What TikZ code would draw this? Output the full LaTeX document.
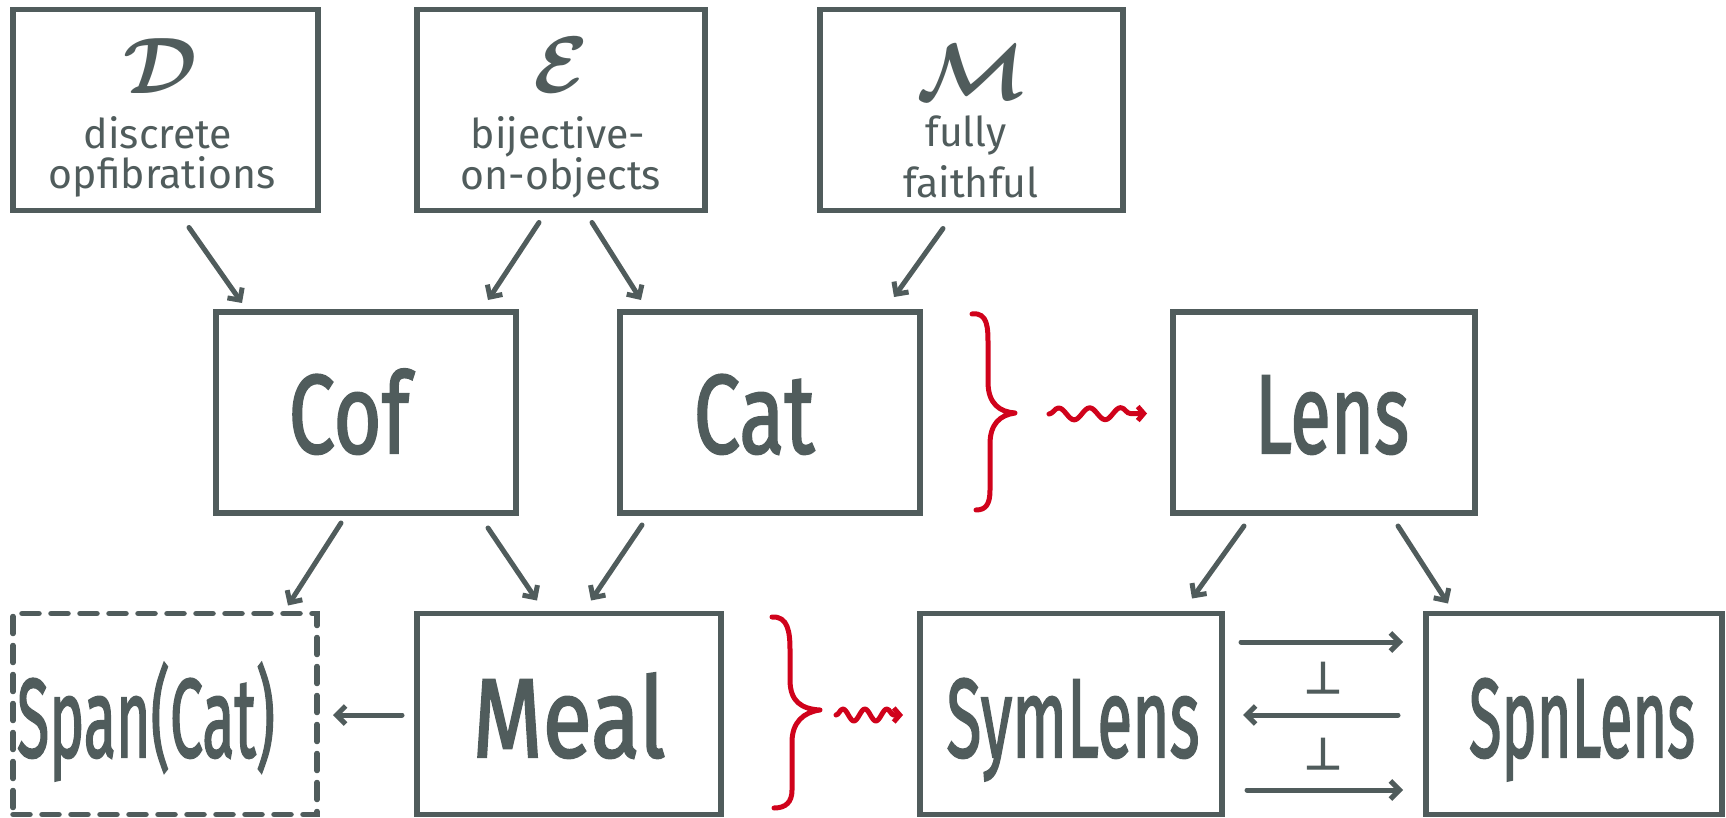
\RequirePackage{fix-cm}
\documentclass[tikz,border=0pt]{standalone}
\usepackage{fontspec}
\setmainfont{Fira Sans}
\newfontfamily\bigfont[FakeBold=2]{Fira Sans}
\newfontfamily\symfont[FakeBold=3]{DejaVu Sans}
\usepackage{graphicx}
\usetikzlibrary{arrows.meta,decorations.pathmorphing}
\definecolor{ink}{HTML}{505C5C}
\definecolor{brc}{HTML}{D0021B}
\newlength\hlw
\newcommand\biglbl[2]{\settowidth\hlw{\bigfont\fontsize{112}{112}\selectfont #2}\pgfmathsetmacro\hsx{#1/\hlw}\scalebox{\hsx}[1]{\bigfont\fontsize{112}{112}\selectfont #2}}
\tikzset{
  box/.style={draw=ink, line width=5.5pt, rectangle, inner sep=0pt, outer sep=0pt, minimum width=#1, minimum height=201pt},
  dbox/.style={box=#1, dash pattern=on 17pt off 12pt, line cap=round},
  small/.style={text=ink, inner sep=0pt, anchor=base, text height=28pt, text depth=6pt, font=\fontsize{41}{41}\selectfont},
  letter/.style={text=ink, inner sep=0pt, anchor=base, text depth=0pt, font=\fontsize{80}{80}\selectfont\boldmath},
  big/.style={text=ink, inner sep=0pt, anchor=base},
  arr/.style={draw=ink, line width=5pt, line cap=round, line join=round, -{Straight Barb[length=9pt,width=18pt,line width=5pt]}},
  brace/.style={draw=brc, line width=5pt, line cap=round, line join=round},
  squig/.style={draw=brc, line width=5pt, line cap=round, line join=round, decorate, decoration={snake, amplitude=6pt, segment length=#1, post length=4pt}, -{Straight Barb[length=6pt,width=14pt,line width=5pt]}},
  perp/.style={text=ink, inner sep=0pt, anchor=base, font=\symfont\fontsize{44}{44}\selectfont},
}
\begin{document}
\begin{tikzpicture}[x=1pt,y=-1pt]
\useasboundingbox (0,0) rectangle (1726,818);
% boxes
\node[box=305pt] (D) at (165.5,110) {};
\node[box=288pt] (E) at (561,110) {};
\node[box=303pt] (M) at (971.5,110) {};
\node[box=300pt] (Cof) at (366,412.5) {};
\node[box=300pt] (Cat) at (770,412.5) {};
\node[box=302pt] (Lens) at (1324,412.5) {};
\node[dbox=304pt] (Span) at (165,714) {};
\node[box=304pt] (Meal) at (569,714) {};
\node[box=302pt] (SymLens) at (1071,714) {};
\node[box=296pt] (SpnLens) at (1574,714) {};
% top texts
\node[letter] (Dl) at (160,94) {$\mathcal{D}$};
\node[small] (Dt1) at (158,149) {discrete};
\node[small] (Dt2) at (162,189) {opfibrations};
\node[letter] (El) at (561,93) {$\mathcal{E}$};
\node[small] (Et1) at (558,149) {bijective-};
\node[small] (Et2) at (561,190) {on-objects};
\node[letter] (Ml) at (972,100) {$\mathcal{M}$};
\node[small] (Mt1) at (966,147) {fully};
\node[small] (Mt2) at (971,198) {faithful};
% big labels
\node[big] (CofL) at (349,453) {\biglbl{121}{Cof}};
\node[big] (CatL) at (754,453) {\biglbl{121}{Cat}};
\node[big] (LensL) at (1332,453) {\biglbl{154}{Lens}};
\node[big] (SpanL) at (146,757) {\biglbl{258}{Span(Cat)}};
\node[big] (MealL) at (569,757) {\biglbl{193}{Meal}};
\node[big] (SymL) at (1073,757) {\biglbl{253}{SymLens}};
\node[big] (SpnL) at (1582,757) {\biglbl{226}{SpnLens}};
% arrows
\draw[arr] ([shift={(23.5,17)}]D.south) -- ([shift={(-124,-9)}]Cof.north);
\draw[arr] ([shift={(-22,12)}]E.south) -- ([shift={(122,-12)}]Cof.north);
\draw[arr] ([shift={(31,12)}]E.south) -- ([shift={(-129,-12)}]Cat.north);
\draw[arr] ([shift={(-28.5,18)}]M.south) -- ([shift={(124,-15)}]Cat.north);
\draw[arr] ([shift={(-25,10)}]Cof.south) -- ([shift={(123,-8)}]Span.north);
\draw[arr] ([shift={(122,15)}]Cof.south) -- ([shift={(-32,-13)}]Meal.north);
\draw[arr] ([shift={(-128,12)}]Cat.south) -- ([shift={(22,-13)}]Meal.north);
\draw[arr] ([shift={(-80,13)}]Lens.south) -- ([shift={(121,-15)}]SymLens.north);
\draw[arr] ([shift={(74,13)}]Lens.south) -- ([shift={(-126,-10)}]SpnLens.north);
\draw[arr] ([shift={(-15,1)}]Meal.west) -- ([shift={(16,1)}]Span.east);
% adjunction
\draw[arr] ([shift={(19,-72)}]SymLens.east) -- ([shift={(-23,-72)}]SpnLens.west);
\draw[arr] ([shift={(-28,1)}]SpnLens.west) -- ([shift={(21,1)}]SymLens.east);
\draw[arr] ([shift={(25,76)}]SymLens.east) -- ([shift={(-23,76)}]SpnLens.west);
\node[perp] (p1) at (1323,693) {⊥};
\node[perp] (p2) at (1323,769) {⊥};
% braces
\draw[brace] (972,314) .. controls (988,312) and (988,328) .. (988,345) -- (988,382)
  .. controls (988,404) and (1000,412) .. (1015,413)
  .. controls (1000,415) and (990,424) .. (990,444) -- (990,490)
  .. controls (990,504) and (986,510) .. (976,510);
\coordinate (sq1) at (1049,414);
\draw[squig=31pt] (sq1) -- ([shift={(-26,1)}]Lens.west);
\draw[brace] (772,617) .. controls (788,616) and (790,632) .. (790,650) -- (790,680)
  .. controls (790,702) and (802,709) .. (820,710)
  .. controls (804,712) and (792,722) .. (792,742) -- (792,790)
  .. controls (792,802) and (786,808) .. (774,808);
\coordinate (sq2) at (836,715);
\draw[squig=22pt] (sq2) -- ([shift={(-17,1)}]SymLens.west);
\end{tikzpicture}
\end{document}
